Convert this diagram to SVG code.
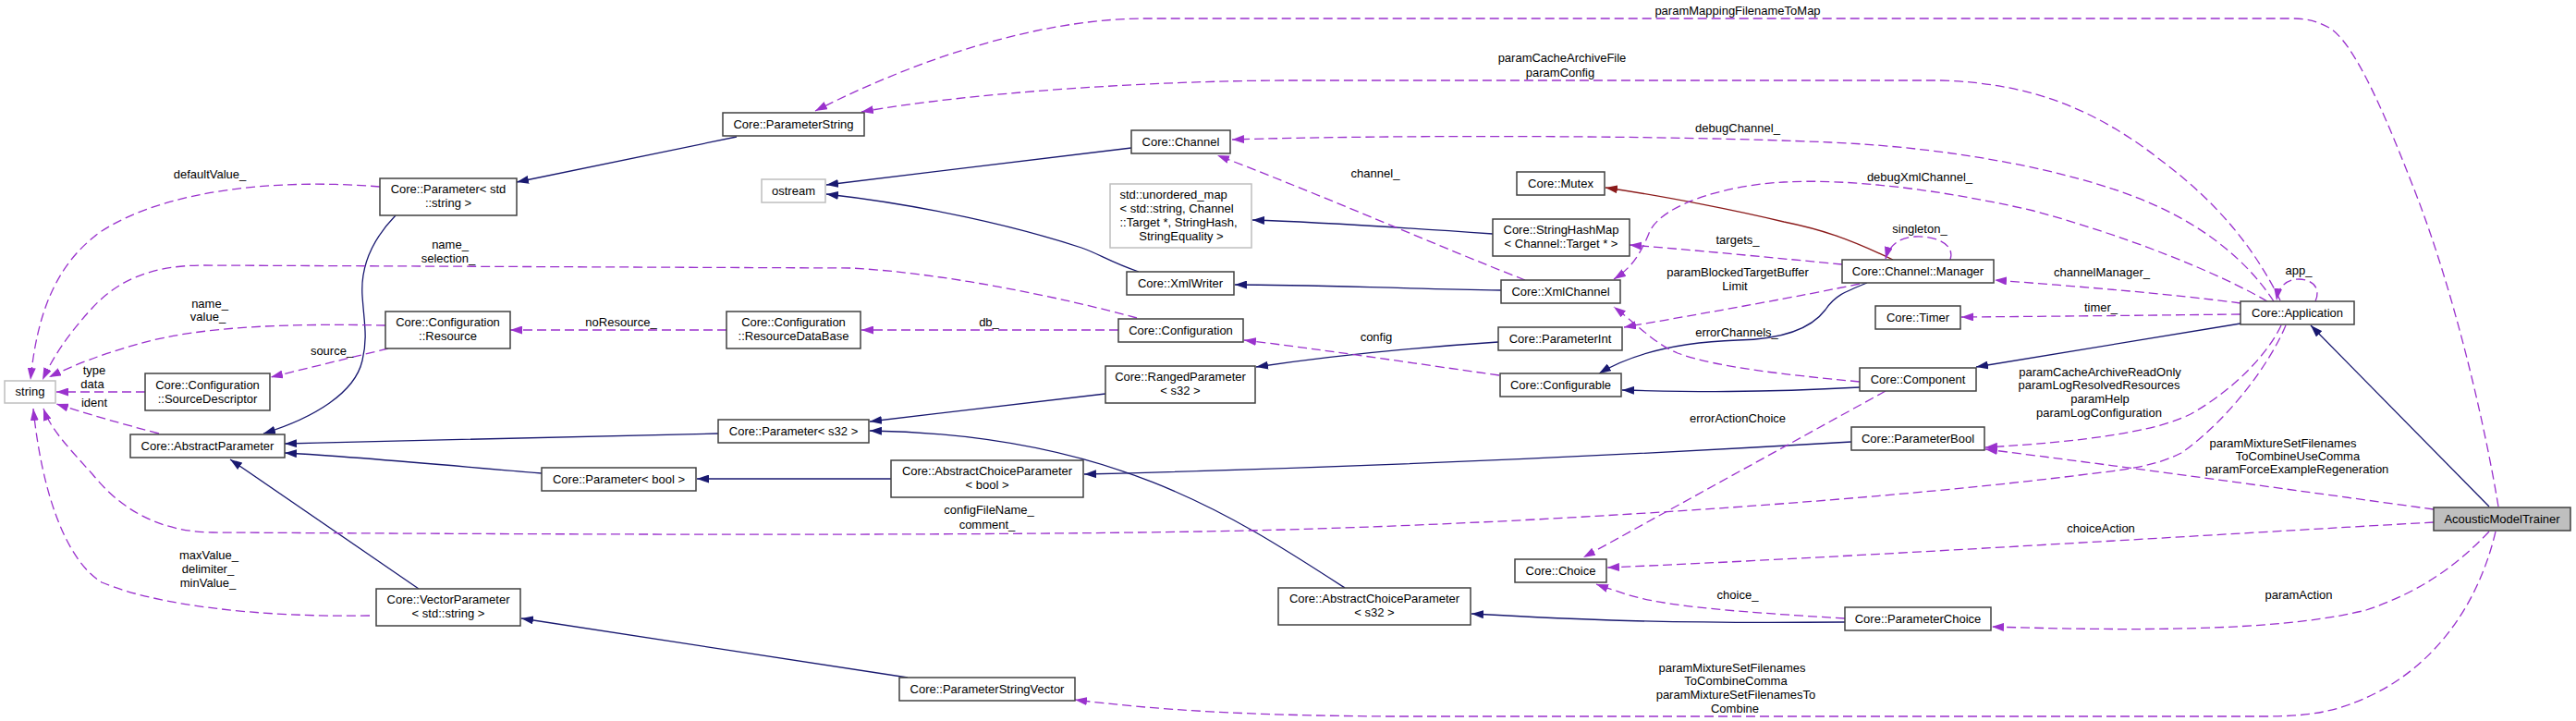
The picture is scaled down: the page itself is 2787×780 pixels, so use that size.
<svg xmlns="http://www.w3.org/2000/svg" width="2787" height="780" viewBox="0 0 2787 780">
<style>
text{font-family:"Liberation Sans",Arial,sans-serif;font-size:13px;fill:#000}
.n rect{fill:#fff;stroke:#404040;stroke-width:1.5}
.n text{text-anchor:middle}
.ext rect{stroke:#bfbfbf}
.hl rect{fill:#bfbfbf}
.inh{fill:none;stroke:#191970;stroke-width:1.3;marker-end:url(#an)}
.prot{fill:none;stroke:#8b1a1a;stroke-width:1.3;marker-end:url(#ar)}
.use{fill:none;stroke:#9a32cd;stroke-width:1.3;stroke-dasharray:10,5;marker-end:url(#ap)}
.lbl{text-anchor:middle}
</style>
<defs>
<marker id="an" viewBox="0 0 13 9" refX="13" refY="4.5" markerWidth="13" markerHeight="9" markerUnits="userSpaceOnUse" orient="auto"><path d="M0,0L13,4.5L0,9z" fill="#191970"/></marker>
<marker id="ar" viewBox="0 0 13 9" refX="13" refY="4.5" markerWidth="13" markerHeight="9" markerUnits="userSpaceOnUse" orient="auto"><path d="M0,0L13,4.5L0,9z" fill="#8b1a1a"/></marker>
<marker id="ap" viewBox="0 0 13 9" refX="13" refY="4.5" markerWidth="13" markerHeight="9" markerUnits="userSpaceOnUse" orient="auto"><path d="M0,0L13,4.5L0,9z" fill="#9a32cd"/></marker>
</defs>
<rect width="2787" height="780" fill="#fff"/>
<g id="connectors">
<!-- inheritance -->
<path class="inh" d="M428,233 C400,262 390,290 392,320 C394,350 398,365 392,390 C384,425 340,452 285,469"/>
<path class="inh" d="M797,148 L559,197"/>
<path class="inh" d="M777,469 C700,471 500,475 308,480"/>
<path class="inh" d="M586,512 C500,505 400,495 308,490"/>
<path class="inh" d="M453,637 L249,497"/>
<path class="inh" d="M982,733 L564,669"/>
<path class="inh" d="M1196,426 L941,456"/>
<path class="inh" d="M1455,636 C1330,555 1200,470 941,466"/>
<path class="inh" d="M964,518 L754,518"/>
<path class="inh" d="M2003,478 C1800,490 1500,505 1173,513"/>
<path class="inh" d="M1996,673 C1800,675 1700,670 1592,664"/>
<path class="inh" d="M1224,160 L894,200"/>
<path class="inh" d="M1232,294 C1200,283 1190,275 1170,268 C1100,245 1000,222 894,210"/>
<path class="inh" d="M1615,253 C1500,245 1420,240 1355,238"/>
<path class="inh" d="M1624,314 C1500,312 1420,308 1336,308"/>
<path class="inh" d="M1621,370 C1500,378 1420,388 1359,397"/>
<path class="prot" d="M2048,281 C2000,258 1970,248 1930,240 C1880,228 1800,212 1737,203"/>
<path class="inh" d="M2020,306 C1995,316 1985,320 1975,335 C1960,355 1930,367 1880,368 C1820,370 1770,380 1730,404"/>
<path class="inh" d="M2012,419 C1900,425 1830,424 1755,422"/>
<path class="inh" d="M2424,350 L2138,397"/>
<path class="inh" d="M2693,548 L2500,352"/>
<!-- usage -->
<path class="use" d="M2703,548 C2685,440 2650,300 2610,200 C2575,110 2545,45 2520,30 C2505,22 2495,20 2480,20 L1240,20 C1130,20 1000,60 882,120"/>
<text class="lbl" x="1880" y="16">paramMappingFilenameToMap</text>
<path class="use" d="M2467,325 C2440,270 2400,220 2340,175 C2270,120 2200,90 2100,87 L1400,87 C1250,87 1050,100 932,121"/>
<text class="lbl" x="1690" y="67">paramCacheArchiveFile</text>
<text class="lbl" x="1688" y="83">paramConfig</text>
<path class="use" d="M2460,326 C2430,280 2380,240 2310,213 C2240,186 2120,160 1980,154 C1800,146 1500,146 1333,151"/>
<text class="lbl" x="1880" y="143">debugChannel_</text>
<path class="use" d="M2453,326 C2400,295 2300,255 2200,228 C2100,205 2000,193 1930,197 C1870,200 1800,220 1785,250 C1775,275 1765,290 1746,302"/>
<text class="lbl" x="2077" y="196">debugXmlChannel_</text>
<path class="use" d="M2110,281 C2116,262 2090,255 2072,256 C2055,257 2044,265 2040,280"/>
<text class="lbl" x="2077" y="252">singleton_</text>
<path class="use" d="M1993,286 C1930,280 1850,272 1763,265"/>
<text class="lbl" x="1880" y="264">targets_</text>
<path class="use" d="M1650,303 C1560,268 1440,215 1317,168"/>
<text class="lbl" x="1488" y="192">channel_</text>
<path class="use" d="M2012,413 C1930,405 1860,398 1815,382 C1790,372 1770,350 1746,332"/>
<text class="lbl" x="1879" y="364">errorChannels_</text>
<path class="use" d="M2012,307 C1950,320 1850,338 1757,354"/>
<text class="lbl" x="1880" y="299">paramBlockedTargetBuffer</text>
<text class="lbl" x="1877" y="314">Limit</text>
<path class="use" d="M2424,328 C2350,318 2250,310 2158,303"/>
<text class="lbl" x="2274" y="299">channelManager_</text>
<path class="use" d="M2424,340 C2330,341 2250,342 2122,343"/>
<text class="lbl" x="2273" y="337">timer_</text>
<path class="use" d="M1622,406 C1530,393 1430,378 1346,368"/>
<text class="lbl" x="1489" y="369">config</text>
<path class="use" d="M1210,357 L932,357"/>
<text class="lbl" x="1070" y="353">db_</text>
<path class="use" d="M786,357 L552,357"/>
<text class="lbl" x="672" y="353">noResource_</text>
<path class="use" d="M420,377 L293,408"/>
<text class="lbl" x="359" y="384">source_</text>
<path class="use" d="M417,352 C320,350 220,352 150,372 C110,383 80,395 53,408"/>
<text class="lbl" x="227" y="333">name_</text>
<text class="lbl" x="225" y="347">value_</text>
<path class="use" d="M1230,344 C1150,322 1020,295 920,290 L220,287 C170,287 130,300 100,333 C75,360 58,385 46,411"/>
<text class="lbl" x="487" y="269">name_</text>
<text class="lbl" x="485" y="284">selection_</text>
<path class="use" d="M411,202 C300,193 180,205 110,250 C60,285 40,340 33,411"/>
<text class="lbl" x="227" y="193">defaultValue_</text>
<path class="use" d="M157,424 L61,424"/>
<text class="lbl" x="102" y="405">type</text>
<text class="lbl" x="100" y="420">data</text>
<path class="use" d="M172,469 C130,458 95,448 61,437"/>
<text class="lbl" x="102" y="440">ident</text>
<path class="use" d="M400,666 C280,668 170,655 110,630 C70,605 45,530 36,442"/>
<text class="lbl" x="226" y="605">maxValue_</text>
<text class="lbl" x="225" y="620">delimiter_</text>
<text class="lbl" x="225" y="635">minValue_</text>
<path class="use" d="M2473,352 C2455,395 2410,455 2360,490 C2330,505 2300,508 2250,514 C2000,545 1600,570 1300,575 C1000,580 600,578 230,576 C170,575 130,550 100,513 C75,485 55,465 47,442"/>
<text class="lbl" x="1070" y="556">configFileName_</text>
<text class="lbl" x="1068" y="572">comment_</text>
<path class="use" d="M2468,352 C2455,380 2420,420 2370,448 C2330,468 2250,478 2148,484"/>
<text class="lbl" x="2272" y="407">paramCacheArchiveReadOnly</text>
<text class="lbl" x="2271" y="421">paramLogResolvedResources</text>
<text class="lbl" x="2272" y="436">paramHelp</text>
<text class="lbl" x="2271" y="451">paramLogConfiguration</text>
<path class="use" d="M2633,551 C2480,530 2300,505 2148,486"/>
<text class="lbl" x="2470" y="484">paramMixtureSetFilenames</text>
<text class="lbl" x="2486" y="498">ToCombineUseComma</text>
<text class="lbl" x="2485" y="512">paramForceExampleRegeneration</text>
<path class="use" d="M2040,423 L1713,603"/>
<text class="lbl" x="1880" y="457">errorActionChoice</text>
<path class="use" d="M2633,565 C2400,578 2000,603 1739,614"/>
<text class="lbl" x="2273" y="576">choiceAction</text>
<path class="use" d="M1996,669 C1880,662 1800,656 1760,643 C1745,638 1735,635 1727,632"/>
<text class="lbl" x="1880" y="648">choice_</text>
<path class="use" d="M2693,575 C2660,610 2620,640 2560,660 C2480,680 2350,684 2155,678"/>
<text class="lbl" x="2487" y="648">paramAction</text>
<path class="use" d="M2700,575 C2680,660 2630,720 2570,750 C2530,770 2500,775 2450,775 L1500,775 C1350,774 1250,768 1163,757"/>
<text class="lbl" x="1874" y="727">paramMixtureSetFilenames</text>
<text class="lbl" x="1878" y="741">ToCombineComma</text>
<text class="lbl" x="1878" y="756">paramMixtureSetFilenamesTo</text>
<text class="lbl" x="1877" y="771">Combine</text>
<path class="use" d="M2505,326 C2512,310 2500,302 2487,302 C2474,302 2465,310 2463,325"/>
<text class="lbl" x="2487" y="297">app_</text>
</g>
<g id="n_string" class="n ext"><rect x="5" y="412" width="55" height="24"/><text x="32.5" y="428">string</text></g>
<g id="n_sourcedescriptor" class="n"><rect x="157" y="404" width="135" height="40"/><text x="224.5" y="421">Core::Configuration</text><text x="224.5" y="436">::SourceDescriptor</text></g>
<g id="n_abstractparameter" class="n"><rect x="141" y="470" width="167" height="25"/><text x="224.5" y="487">Core::AbstractParameter</text></g>
<g id="n_vectorparameter" class="n"><rect x="407" y="637" width="156" height="40"/><text x="485" y="653">Core::VectorParameter</text><text x="485" y="668">&lt; std::string &gt;</text></g>
<g id="n_parameter_string" class="n"><rect x="411" y="193" width="148" height="40"/><text x="485" y="209">Core::Parameter&lt; std</text><text x="485" y="224">::string &gt;</text></g>
<g id="n_resource" class="n"><rect x="417" y="337" width="135" height="40"/><text x="484.5" y="353">Core::Configuration</text><text x="484.5" y="368">::Resource</text></g>
<g id="n_parameterstring" class="n"><rect x="782" y="122" width="153" height="25"/><text x="858.5" y="139">Core::ParameterString</text></g>
<g id="n_ostream" class="n ext"><rect x="824" y="194" width="69" height="25"/><text x="858.5" y="211">ostream</text></g>
<g id="n_resourcedatabase" class="n"><rect x="786" y="337" width="145" height="40"/><text x="858.5" y="353">Core::Configuration</text><text x="858.5" y="368">::ResourceDataBase</text></g>
<g id="n_parameter_s32" class="n"><rect x="777" y="454" width="163" height="25"/><text x="858.5" y="471">Core::Parameter&lt; s32 &gt;</text></g>
<g id="n_parameter_bool" class="n"><rect x="586" y="506" width="167" height="25"/><text x="669.5" y="523">Core::Parameter&lt; bool &gt;</text></g>
<g id="n_channel" class="n"><rect x="1224" y="141" width="107" height="25"/><text x="1277.5" y="158">Core::Channel</text></g>
<g id="n_unordered_map" class="n ext"><rect x="1201" y="199" width="153" height="69"/><text x="1211.5" y="215" style="text-anchor:start">std::unordered_map</text><text x="1211.5" y="230" style="text-anchor:start">&lt; std::string, Channel</text><text x="1211.5" y="245" style="text-anchor:start">::Target *, StringHash,</text><text x="1278" y="260">StringEquality &gt;</text></g>
<g id="n_xmlwriter" class="n"><rect x="1219" y="294" width="116" height="25"/><text x="1277" y="311">Core::XmlWriter</text></g>
<g id="n_configuration" class="n"><rect x="1210" y="345" width="135" height="25"/><text x="1277.5" y="362">Core::Configuration</text></g>
<g id="n_rangedparameter" class="n"><rect x="1196" y="396" width="162" height="40"/><text x="1277" y="412">Core::RangedParameter</text><text x="1277" y="427">&lt; s32 &gt;</text></g>
<g id="n_acp_bool" class="n"><rect x="964" y="498" width="208" height="40"/><text x="1068" y="514">Core::AbstractChoiceParameter</text><text x="1068" y="529">&lt; bool &gt;</text></g>
<g id="n_parameterstringvector" class="n"><rect x="973" y="733" width="190" height="25"/><text x="1068" y="750">Core::ParameterStringVector</text></g>
<g id="n_acp_s32" class="n"><rect x="1383" y="636" width="208" height="40"/><text x="1487" y="652">Core::AbstractChoiceParameter</text><text x="1487" y="667">&lt; s32 &gt;</text></g>
<g id="n_mutex" class="n"><rect x="1641" y="186" width="95" height="25"/><text x="1688.5" y="203">Core::Mutex</text></g>
<g id="n_stringhashmap" class="n"><rect x="1615" y="237" width="148" height="40"/><text x="1689" y="253">Core::StringHashMap</text><text x="1689" y="268">&lt; Channel::Target * &gt;</text></g>
<g id="n_xmlchannel" class="n"><rect x="1624" y="303" width="129" height="25"/><text x="1688.5" y="320">Core::XmlChannel</text></g>
<g id="n_parameterint" class="n"><rect x="1621" y="354" width="134" height="25"/><text x="1688" y="371">Core::ParameterInt</text></g>
<g id="n_configurable" class="n"><rect x="1623" y="404" width="131" height="25"/><text x="1688.5" y="421">Core::Configurable</text></g>
<g id="n_choice" class="n"><rect x="1639" y="605" width="99" height="25"/><text x="1688.5" y="622">Core::Choice</text></g>
<g id="n_manager" class="n"><rect x="1993" y="281" width="164" height="25"/><text x="2075" y="298">Core::Channel::Manager</text></g>
<g id="n_timer" class="n"><rect x="2029" y="331" width="92" height="25"/><text x="2075" y="348">Core::Timer</text></g>
<g id="n_component" class="n"><rect x="2012" y="398" width="126" height="25"/><text x="2075" y="415">Core::Component</text></g>
<g id="n_parameterbool" class="n"><rect x="2003" y="462" width="144" height="25"/><text x="2075" y="479">Core::ParameterBool</text></g>
<g id="n_parameterchoice" class="n"><rect x="1996" y="657" width="158" height="25"/><text x="2075" y="674">Core::ParameterChoice</text></g>
<g id="n_application" class="n"><rect x="2424" y="326" width="123" height="25"/><text x="2485.5" y="343">Core::Application</text></g>
<g id="n_acousticmodeltrainer" class="n hl"><rect x="2633" y="549" width="148" height="25"/><text x="2707" y="566">AcousticModelTrainer</text></g>
</svg>
